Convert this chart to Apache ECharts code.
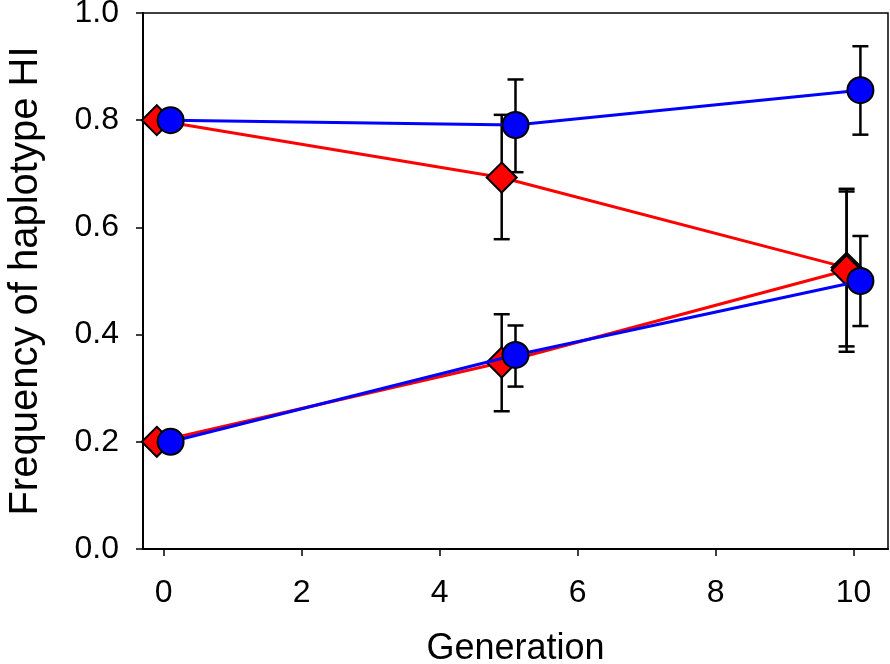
<!DOCTYPE html>
<html>
<head>
<meta charset="utf-8">
<script src="https://cdn.jsdelivr.net/npm/echarts@6/dist/echarts.min.js"></script>
<style>html,body{margin:0;padding:0;background:#fff}#c{width:890px;height:664px}</style>
</head>
<body>
<div id="c"></div>
<script>
// Data
var xTicks = [0, 2, 4, 6, 8, 10];
var redX = [-0.1, 4.9, 9.9];
var blueX = [0.1, 5.1, 10.1];

var redUpper = [0.80, 0.693, 0.525];
var redUpperLow = [null, 0.578, 0.368];
var redUpperHigh = [null, 0.810, 0.672];

var redLower = [0.20, 0.348, 0.520];
var redLowerLow = [null, 0.257, 0.378];
var redLowerHigh = [null, 0.438, 0.667];

var blueUpper = [0.80, 0.791, 0.856];
var blueUpperLow = [null, 0.703, 0.773];
var blueUpperHigh = [null, 0.876, 0.938];

var blueLower = [0.20, 0.362, 0.500];
var blueLowerLow = [null, 0.303, 0.416];
var blueLowerHigh = [null, 0.417, 0.584];

function pts(xs, ys) { return xs.map(function (x, i) { return [x, ys[i]]; }); }
function errs(xs, lo, hi) {
  var out = [];
  xs.forEach(function (x, i) { if (lo[i] != null) out.push([x, lo[i], hi[i]]); });
  return out;
}
var errData = [].concat(
  errs(redX, redUpperLow, redUpperHigh),
  errs(redX, redLowerLow, redLowerHigh),
  errs(blueX, blueUpperLow, blueUpperHigh),
  errs(blueX, blueLowerLow, blueLowerHigh)
);

var font = '"Liberation Sans", Arial, Helvetica, sans-serif';
var chart = echarts.init(document.getElementById('c'));
chart.setOption({
  animation: false,
  backgroundColor: '#fff',
  grid: { left: 143, right: 2, top: 13, bottom: 115, containLabel: false, outerBoundsMode: 'none', show: true, borderColor: '#000', borderWidth: 1.5, backgroundColor: 'transparent' },
  xAxis: {
    type: 'value', min: -0.3, max: 10.5,
    name: 'Generation', nameLocation: 'middle', nameGap: 82,
    nameTextStyle: { fontFamily: font, fontSize: 36, color: '#000' },
    axisLine: { show: true, onZero: false, lineStyle: { color: '#000', width: 2 } },
    axisTick: { show: true, length: 7, inside: false, lineStyle: { color: '#000', width: 1.5 }, customValues: xTicks },
    axisLabel: { show: true, margin: 28, fontFamily: font, fontSize: 32, color: '#000', customValues: xTicks },
    splitLine: { show: false }
  },
  yAxis: {
    type: 'value', min: 0, max: 1, interval: 0.2,
    name: 'Frequency of haplotype HI', nameLocation: 'middle', nameGap: 97,
    nameTextStyle: { fontFamily: font, fontSize: 40, color: '#000' },
    axisLine: { show: true, onZero: false, lineStyle: { color: '#000', width: 2 } },
    axisTick: { show: true, length: 7, lineStyle: { color: '#000', width: 1.5 } },
    axisLabel: { margin: 24, fontFamily: font, fontSize: 32, color: '#000', formatter: function (v) { return v.toFixed(1); } },
    splitLine: { show: false }
  },
  series: [
    {
      type: 'custom',
      data: errData,
      z: 1,
      renderItem: function (params, api) {
        var x = api.value(0);
        var lo = api.coord([x, api.value(1)]);
        var hi = api.coord([x, api.value(2)]);
        var hw = 8;
        var st = { stroke: '#000', lineWidth: 2.5 };
        return {
          type: 'group',
          children: [
            { type: 'line', shape: { x1: lo[0], y1: lo[1], x2: hi[0], y2: hi[1] }, style: st },
            { type: 'line', shape: { x1: lo[0] - hw, y1: lo[1], x2: lo[0] + hw, y2: lo[1] }, style: st },
            { type: 'line', shape: { x1: hi[0] - hw, y1: hi[1], x2: hi[0] + hw, y2: hi[1] }, style: st }
          ]
        };
      }
    },
    {
      type: 'line', data: pts(redX, redUpper), z: 2,
      lineStyle: { color: '#ff0000', width: 3 },
      symbol: 'diamond', symbolSize: 30,
      itemStyle: { color: '#ff0000', borderColor: '#000', borderWidth: 2 }
    },
    {
      type: 'line', data: pts(redX, redLower), z: 2,
      lineStyle: { color: '#ff0000', width: 3 },
      symbol: 'diamond', symbolSize: 30,
      itemStyle: { color: '#ff0000', borderColor: '#000', borderWidth: 2 }
    },
    {
      type: 'line', data: pts(blueX, blueUpper), z: 3,
      lineStyle: { color: '#0000ff', width: 3 },
      symbol: 'circle', symbolSize: 26,
      itemStyle: { color: '#0000ff', borderColor: '#000', borderWidth: 2 }
    },
    {
      type: 'line', data: pts(blueX, blueLower), z: 3,
      lineStyle: { color: '#0000ff', width: 3 },
      symbol: 'circle', symbolSize: 26,
      itemStyle: { color: '#0000ff', borderColor: '#000', borderWidth: 2 }
    }
  ]
});
</script>
</body>
</html>
